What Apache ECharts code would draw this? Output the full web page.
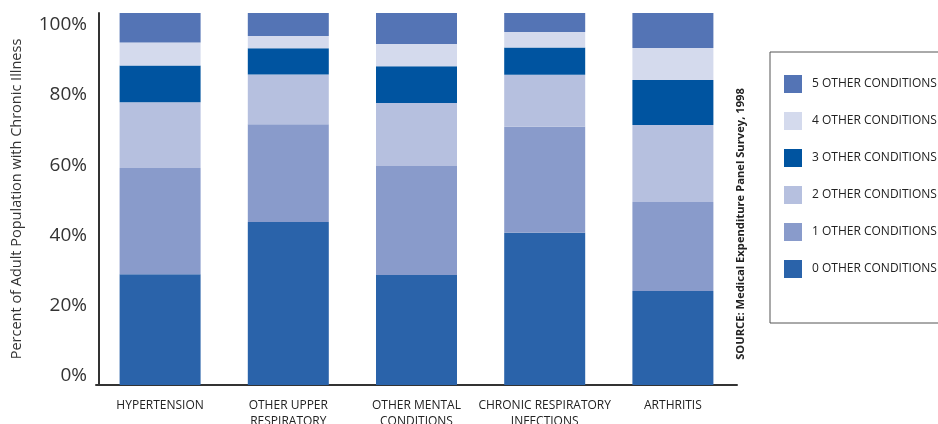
<!DOCTYPE html>
<html>
<head>
<meta charset="utf-8">
<script src="https://cdn.jsdelivr.net/npm/echarts@6/dist/echarts.min.js"></script>
<style>
  html, body { margin: 0; padding: 0; background: #fff; }
  #chart { width: 938px; height: 424px; }
</style>
</head>
<body>
<div id="chart"></div>
<script>
// Categories along the x axis
const categories = [
    'HYPERTENSION',
    'OTHER UPPER\nRESPIRATORY',
    'OTHER MENTAL\nCONDITIONS',
    'CHRONIC RESPIRATORY\nINFECTIONS',
    'ARTHRITIS'
];

// Share (%) of each illness group by number of other conditions
const other0 = [29.8, 43.8, 29.6, 40.9, 25.3];
const other1 = [28.5, 26.3, 29.3, 28.5, 23.9];
const other2 = [17.7, 13.4, 16.9, 14.0, 20.7];
const other3 = [9.9, 7.0, 9.9, 7.3, 12.1];
const other4 = [6.2, 3.3, 6.0, 4.2, 8.6];
const other5 = [7.9, 6.2, 8.3, 5.1, 9.4];

const seriesNames = [
    '0 OTHER CONDITIONS',
    '1 OTHER CONDITIONS',
    '2 OTHER CONDITIONS',
    '3 OTHER CONDITIONS',
    '4 OTHER CONDITIONS',
    '5 OTHER CONDITIONS'
];

// Tick labels on the percent axis
const yTicks = [0, 20, 40, 60, 80, 100];

const colors = ['#2a63aa', '#899bcb', '#b6c0df', '#0054a0', '#d4daed', '#5474b5'];
const values = [other0, other1, other2, other3, other4, other5];

var chartDom = document.getElementById('chart');
var myChart = echarts.init(chartDom);

var series = values.map(function(data, i) {
    return {
        name: seriesNames[i],
        type: 'bar',
        stack: 'total',
        barWidth: 81,
        yAxisIndex: 0,
        itemStyle: { color: colors[i] },
        data: data
    };
});

var option = {
    animation: false,
    color: colors,
    textStyle: { fontFamily: 'Open Sans' },
    grid: { left: 96, top: 13, width: 641, height: 372, outerBoundsMode: 'none', containLabel: false },
    legend: {
        orient: 'vertical',
        left: 770,
        top: 52,
        padding: [23, 60, 45, 14],
        itemWidth: 18,
        itemHeight: 18,
        itemGap: 19,
        icon: 'rect',
        borderColor: '#555',
        borderWidth: 1,
        data: seriesNames.slice().reverse(),
        textStyle: { fontSize: 12, color: '#222', padding: [0, 0, 0, 5] }
    },
    xAxis: {
        type: 'category',
        data: categories,
        axisLine: { lineStyle: { color: '#333', width: 2 } },
        axisTick: { show: false },
        axisLabel: { fontSize: 12, color: '#222', margin: 13, lineHeight: 16, interval: 0 }
    },
    yAxis: [
        {
            // bar scale: stacks total 100%
            type: 'value',
            min: 0,
            max: 100,
            offset: -3,
            axisLine: { show: true, lineStyle: { color: '#333', width: 2 } },
            axisTick: { show: false },
            axisLabel: { show: false },
            splitLine: { show: false }
        },
        {
            // label scale, as printed in the source figure
            type: 'value',
            position: 'left',
            min: -2.56,
            max: 103.27,
            axisLine: { show: false },
            axisTick: { show: false },
            splitLine: { show: false },
            axisLabel: {
                customValues: yTicks,
                formatter: '{value}%',
                fontSize: 19,
                color: '#333',
                margin: 9
            },
            name: 'Percent of Adult Population with Chronic Illness',
            nameLocation: 'middle',
            nameGap: 72,
            nameTextStyle: { fontSize: 14.5, color: '#333' }
        }
    ],
    graphic: [{
        type: 'text',
        x: 741,
        y: 224,
        rotation: Math.PI / 2,
        style: {
            text: 'SOURCE: Medical Expenditure Panel Survey, 1998',
            fontSize: 11.2,
            fontWeight: 'bold',
            fontFamily: 'Open Sans',
            fill: '#222',
            align: 'center',
            verticalAlign: 'middle'
        }
    }],
    series: series
};

option && myChart.setOption(option);
</script>
</body>
</html>
